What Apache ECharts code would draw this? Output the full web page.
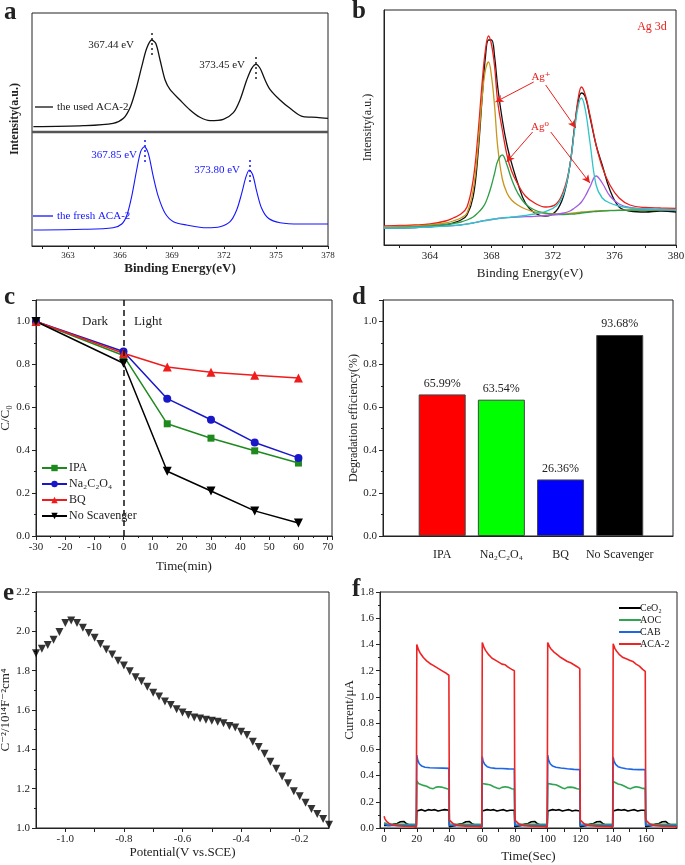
<!DOCTYPE html>
<html><head><meta charset="utf-8">
<script src="https://cdn.jsdelivr.net/npm/echarts@6/dist/echarts.min.js"></script>
<style>html,body{margin:0;padding:0;background:#fff}#c{width:685px;height:865px}</style>
</head><body><div id="c"></div>
<script>
// ---------- Panel a : Ag 3d XPS, used vs fresh ----------
const aUsedX = [361.0, 363.9, 365.6, 366.2, 366.6, 366.96, 367.25, 367.54, 367.83, 368.06, 368.31, 368.6, 368.88, 369.46, 370.04, 370.61, 371.19, 371.96, 372.54, 372.92, 373.31, 373.6, 373.85, 374.08, 374.37, 374.65, 375.23, 375.81, 376.57, 377.35, 378.0];
const aUsedY = [5.3, 6.3, 8.7, 13.7, 25.3, 45.3, 65.3, 83.7, 92, 88.7, 72, 52, 42.7, 32, 22, 14.7, 11.3, 12.7, 19.3, 32, 52, 63.7, 67.7, 63.7, 52, 42.7, 32, 23.7, 15.3, 14.7, 13.7];
const aFreshX = [361.0, 363.9, 365.6, 366.1, 366.4, 366.67, 366.96, 367.19, 367.4, 367.63, 367.92, 368.21, 368.6, 369.08, 369.85, 371.0, 371.77, 372.35, 372.73, 373.02, 373.27, 373.46, 373.66, 373.89, 374.17, 374.56, 375.23, 376.38, 378.0];
const aFreshY = [16, 16.7, 18.3, 22, 31, 49.3, 76, 94.3, 99.3, 92.7, 69.3, 49.3, 32.7, 24.3, 21, 18.3, 19.3, 24.3, 36, 52.7, 69.3, 76, 71, 54.3, 37.7, 27.7, 23.3, 22, 22];
const aTickLabels = [363, 366, 369, 372, 375, 378];

// ---------- Panel b : Ag 3d fit ----------
const bX = [361, 362, 363, 364, 365, 365.5, 366, 366.4, 366.8, 367.1, 367.4, 367.6, 367.8, 368.0, 368.2, 368.4, 368.7, 369.0, 369.3, 369.7, 370.2, 370.8, 371.5, 372.2, 372.7, 373.1, 373.4, 373.65, 373.85, 374.1, 374.4, 374.8, 375.2, 375.7, 376.3, 377, 378, 379, 380];
const bRaw = [17, 17, 17.5, 18.5, 20, 22, 25, 30, 48, 88, 150, 188, 205, 205, 188, 158, 125, 100, 82, 62, 42, 32, 29, 34, 50, 80, 118, 145, 152, 148, 128, 100, 80, 55, 38, 34, 33, 34, 33];
const bEnvelope = [19, 19.5, 20, 21, 24, 27, 31, 38, 65, 108, 165, 195, 209, 200, 178, 143, 115, 90, 74, 61, 49, 42, 38, 41, 55, 80, 118, 148, 158, 150, 130, 100, 78, 60, 47, 40, 37.5, 37, 36.7];
const bAgPlus52 = [18, 18.5, 19, 20, 22, 24, 27, 32, 55, 95, 150, 175, 183, 168, 138, 98, 66, 52, 45, 40, 36, 33, 31.5, 31, 31, 31.5, 32, 32.5, 33, 33, 33.5, 34, 34.3, 34.6, 34.8, 35, 35.2, 35.3, 35.5];
const bAg0_52 = [17, 17.5, 18, 19, 20.5, 21.5, 23, 25, 28, 32, 37, 42, 50, 60, 72, 84, 90, 80, 66, 52, 41, 35, 32, 30.5, 30.5, 30.8, 31, 31.5, 32, 32.5, 33, 33.5, 34, 34.3, 34.6, 34.8, 35, 35, 35];
const bAgPlus32 = [17, 17, 17.5, 18, 19, 19.5, 20, 21, 22, 23, 24, 24.5, 25, 25.5, 26, 26.5, 27, 27.5, 28, 28.5, 29.5, 31, 33.5, 39, 52, 80, 115, 140, 147, 135, 103, 60, 47, 42, 39, 37, 36, 35.5, 35];
const bAg0_32 = [17, 17, 17.5, 18, 19, 19.5, 20, 21, 22, 23, 24, 24.5, 25, 25.5, 26, 26.5, 27, 27.3, 27.6, 28, 28.3, 28.7, 29.5, 30.5, 32, 34, 37, 40, 43, 49, 58, 69, 62, 49, 41, 37.5, 36, 35.5, 35];
const bTickLabels = [364, 368, 372, 376, 380];

// ---------- Panel c : scavenger kinetics ----------
const cTime = [-30, 0, 15, 30, 45, 60];
const cIPA = [1.0, 0.841, 0.523, 0.456, 0.397, 0.340];
const cNa2C2O4 = [1.0, 0.860, 0.640, 0.542, 0.436, 0.364];
const cBQ = [1.0, 0.852, 0.788, 0.763, 0.749, 0.737];
const cNoScav = [1.0, 0.805, 0.302, 0.210, 0.117, 0.061];
const cNames = ['IPA', 'Na₂C₂O₄', 'BQ', 'No Scavenger'];

// ---------- Panel d : degradation efficiency ----------
const dNames = ['IPA', 'Na₂C₂O₄', 'BQ', 'No Scavenger'];
const dValues = [0.6599, 0.6354, 0.2636, 0.9368];
const dColors = ['#ff0000', '#00ff00', '#0000ff', '#000000'];

// ---------- Panel e : Mott-Schottky ----------
const eX = [-1.10,-1.08,-1.06,-1.04,-1.02,-1.00,-0.98,-0.96,-0.94,-0.92,-0.90,-0.88,-0.86,-0.84,-0.82,-0.80,-0.78,-0.76,-0.74,-0.72,-0.70,-0.68,-0.66,-0.64,-0.62,-0.60,-0.58,-0.56,-0.54,-0.52,-0.50,-0.48,-0.46,-0.44,-0.42,-0.40,-0.38,-0.36,-0.34,-0.32,-0.30,-0.28,-0.26,-0.24,-0.22,-0.20,-0.18,-0.16,-0.14,-0.12,-0.10];
const eY = [1.889,1.911,1.931,1.957,1.996,2.042,2.055,2.042,2.018,1.992,1.967,1.936,1.907,1.882,1.851,1.826,1.797,1.766,1.746,1.718,1.688,1.669,1.643,1.625,1.604,1.587,1.574,1.562,1.557,1.550,1.545,1.540,1.533,1.519,1.511,1.490,1.473,1.439,1.412,1.378,1.337,1.301,1.262,1.228,1.187,1.162,1.128,1.097,1.071,1.046,1.017];
const eTickLabels = [-1.0, -0.8, -0.6, -0.4, -0.2];
const eTicks = [-1.0, -0.9, -0.8, -0.7, -0.6, -0.5, -0.4, -0.3, -0.2];

// ---------- Panel f : transient photocurrent ----------
const fCeO2 = [[0,0.02],[4,0.02],[6,0.03],[8,0.035],[10,0.048],[12,0.05],[13.5,0.035],[15,0.025],[17,0.015],[19.7,0.01],
[20,0.13],[21,0.14],[23,0.14],[25,0.13],[27,0.14],[29,0.135],[31,0.14],[33,0.13],[35,0.135],[37,0.14],[39.6,0.135],[39.9,0.01],
[44,0.02],[46,0.03],[48,0.035],[50,0.048],[52,0.05],[53.5,0.035],[55,0.025],[57,0.015],[59.7,0.01],
[60,0.13],[61,0.14],[63,0.14],[65,0.135],[67,0.14],[69,0.13],[71,0.135],[73,0.14],[75,0.13],[77,0.135],[79.6,0.135],[79.9,0.01],
[84,0.02],[86,0.03],[88,0.035],[90,0.048],[92,0.05],[93.5,0.035],[95,0.025],[97,0.015],[99.7,0.01],
[100,0.13],[101,0.14],[103,0.14],[105,0.135],[107,0.14],[109,0.13],[111,0.135],[113,0.14],[115,0.13],[117,0.135],[119.6,0.13],[119.9,0.01],
[124,0.02],[126,0.03],[128,0.035],[130,0.048],[132,0.05],[133.5,0.035],[135,0.025],[137,0.015],[139.7,0.01],
[140,0.13],[141,0.14],[143,0.14],[145,0.135],[147,0.14],[149,0.13],[151,0.135],[153,0.14],[155,0.13],[157,0.135],[159.6,0.135],[159.9,0.01],
[164,0.02],[166,0.03],[168,0.035],[170,0.048],[172,0.05],[173.5,0.035],[175,0.025],[177,0.015],[179,0.01]];
const fAOC = [[0,0.04],[2,0.03],[19.7,0.028],[20,0.36],[21,0.34],[22,0.33],[24,0.325],[26,0.318],[28,0.305],[30,0.30],[31.5,0.31],[33,0.315],[35,0.312],[37,0.305],[39.6,0.295],[39.9,0.03],
[59.7,0.028],[60,0.34],[61,0.335],[63,0.333],[65,0.328],[67,0.315],[69,0.305],[70.5,0.30],[72,0.31],[74,0.315],[76,0.31],[78,0.30],[79.6,0.295],[79.9,0.03],
[99.7,0.028],[100,0.34],[101,0.335],[103,0.333],[105,0.33],[107,0.318],[109,0.305],[110.5,0.30],[112,0.31],[114,0.312],[116,0.308],[118,0.30],[119.6,0.295],[119.9,0.03],
[139.7,0.028],[140,0.355],[141,0.345],[143,0.335],[145,0.33],[147,0.318],[149,0.305],[150.5,0.30],[152,0.308],[154,0.315],[156,0.31],[158,0.302],[159.6,0.30],[159.9,0.03],[179,0.028]];
const fCAB = [[0,0.03],[2,0.02],[19.7,0.018],[20,0.555],[20.5,0.52],[21.5,0.49],[23,0.472],[25,0.463],[28,0.46],[32,0.458],[36,0.457],[39.6,0.455],[39.9,0.02],
[59.7,0.018],[60,0.545],[60.5,0.51],[61.5,0.485],[63,0.468],[65,0.46],[68,0.455],[72,0.454],[76,0.451],[79.6,0.45],[79.9,0.02],
[99.7,0.018],[100,0.555],[100.5,0.52],[101.5,0.49],[103,0.472],[105,0.463],[108,0.458],[112,0.452],[116,0.447],[119.6,0.445],[119.9,0.02],
[139.7,0.018],[140,0.54],[140.5,0.51],[141.5,0.485],[143,0.468],[145,0.46],[148,0.452],[152,0.447],[156,0.445],[159.6,0.445],[159.9,0.02],[179,0.018]];
const fACA2 = [[0,0.09],[0.5,0.07],[1.5,0.05],[3,0.035],[5,0.025],[8,0.018],[12,0.013],[19.7,0.01],
[20,1.40],[21,1.36],[22,1.335],[24,1.30],[26,1.275],[28,1.255],[30,1.24],[32,1.225],[34,1.21],[36,1.195],[38,1.18],[39.6,1.165],
[39.9,0.06],[41,0.045],[42.5,0.03],[45,0.02],[50,0.014],[59.7,0.01],
[60,1.415],[61,1.38],[62,1.355],[64,1.32],[66,1.295],[68,1.28],[70,1.265],[72,1.25],[73,1.24],[74,1.245],[76,1.225],[78,1.21],[79.6,1.20],
[79.9,0.06],[81,0.045],[82.5,0.03],[85,0.02],[90,0.014],[99.7,0.01],
[100,1.415],[101,1.385],[102,1.365],[104,1.34],[106,1.32],[108,1.30],[110,1.285],[112,1.27],[114,1.26],[116,1.245],[118,1.23],[119.6,1.215],
[119.9,0.06],[121,0.045],[122.5,0.03],[125,0.02],[130,0.014],[139.7,0.01],
[140,1.405],[141,1.37],[142,1.35],[144,1.32],[146,1.30],[148,1.29],[150,1.28],[151,1.285],[152,1.27],[154,1.25],[156,1.235],[158,1.21],[159.6,1.195],
[159.9,0.06],[161,0.045],[162.5,0.03],[165,0.02],[170,0.014],[179,0.01]];
const fNames = ['CeO₂', 'AOC', 'CAB', 'ACA-2'];
const fTickLabels = [0, 20, 40, 60, 80, 100, 120, 140, 160];
const fTicks = [0, 10, 20, 30, 40, 50, 60, 70, 80, 90, 100, 110, 120, 130, 140, 150, 160, 170];

// ---------- helpers ----------
const FONT = '"Liberation Serif", "DejaVu Serif", serif';
const zip = (xs, ys) => xs.map((x, i) => [x, ys[i]]);
function merge(a, b) {
  const r = Object.assign({}, a);
  for (const k in b) {
    if (b[k] && typeof b[k] === 'object' && !Array.isArray(b[k]) && a[k] && typeof a[k] === 'object') r[k] = merge(a[k], b[k]);
    else r[k] = b[k];
  }
  return r;
}
const baseAxis = {
  type: 'value', splitLine: { show: false },
  axisLine: { show: true, onZero: false, lineStyle: { color: '#222', width: 1 } },
  axisTick: { show: true, inside: false, length: 4, lineStyle: { color: '#222', width: 1 } },
  minorTick: { show: false },
  axisLabel: { color: '#222', fontSize: 11, fontFamily: FONT, margin: 6 },
  nameLocation: 'middle',
  nameTextStyle: { color: '#222', fontFamily: FONT, fontSize: 13 }
};
const ax = (o) => merge(baseAxis, o);
const f1 = v => (Math.round(v * 10) / 10).toFixed(1);

const grids = [
  { left: 32, top: 13, width: 296, height: 119 },
  { left: 32, top: 132, width: 296, height: 114 },
  { left: 384, top: 10, width: 292, height: 235 },
  { left: 36, top: 300, width: 296, height: 236 },
  { left: 383, top: 300, width: 290, height: 236 },
  { left: 36, top: 592, width: 293, height: 236 },
  { left: 380, top: 592, width: 297, height: 236 }
].map(g => Object.assign({ show: true, borderColor: '#222', borderWidth: 1, backgroundColor: 'transparent', containLabel: false, outerBoundsMode: 'none' }, g));

const xAxes = [
  ax({ gridIndex: 0, min: 360.92, max: 378, show: false }),
  ax({ gridIndex: 1, min: 360.92, max: 378,
       axisLabel: { customValues: aTickLabels, fontSize: 9, margin: 5 },
       axisTick: { customValues: [361.5, 363, 364.5, 366, 367.5, 369, 370.5, 372, 373.5, 375, 376.5, 378], length: 3 },
       name: 'Binding Energy(eV)', nameGap: 16, nameTextStyle: { fontWeight: 'bold', fontSize: 13 } }),
  ax({ gridIndex: 2, min: 361, max: 380,
       axisLabel: { customValues: bTickLabels, margin: 6 },
       axisTick: { customValues: [362, 364, 366, 368, 370, 372, 374, 376, 378, 380], length: 3 },
       name: 'Binding Energy(eV)', nameGap: 22 }),
  ax({ gridIndex: 3, min: -30, max: 71.5, interval: 10,
       axisLabel: { showMaxLabel: false },
       minorTick: { show: true, splitNumber: 2, length: 2, lineStyle: { color: '#222' } },
       name: 'Time(min)', nameGap: 24 }),
  ax({ gridIndex: 4, min: 0, max: 4.9,
       axisLabel: { customValues: [1, 2, 3, 4], formatter: v => dNames[Math.round(v) - 1], fontSize: 12, margin: 13 },
       axisTick: { show: false } }),
  ax({ gridIndex: 5, min: -1.1, max: -0.1,
       axisLabel: { customValues: eTickLabels, formatter: f1 },
       axisTick: { customValues: eTicks },
       name: 'Potential(V vs.SCE)', nameGap: 17 }),
  ax({ gridIndex: 6, min: -2.5, max: 179,
       axisLabel: { customValues: fTickLabels },
       axisTick: { customValues: fTicks },
       name: 'Time(Sec)', nameGap: 22 })
];

const yAxes = [
  ax({ gridIndex: 0, min: 0, max: 119, show: false }),
  ax({ gridIndex: 1, min: 0, max: 114, show: false }),
  ax({ gridIndex: 2, min: 0, max: 235, axisTick: { show: false }, axisLabel: { show: false },
       name: 'Intensity(a.u.)', nameGap: 10, nameTextStyle: { fontSize: 12 } }),
  ax({ gridIndex: 3, min: 0, max: 1.1, interval: 0.2, axisLabel: { showMaxLabel: false, formatter: f1 },
       minorTick: { show: true, splitNumber: 2, length: 2, lineStyle: { color: '#222' } },
       name: 'C/C₀', nameGap: 19 }),
  ax({ gridIndex: 4, min: 0, max: 1.1, interval: 0.2, axisLabel: { showMaxLabel: false, formatter: f1 },
       minorTick: { show: true, splitNumber: 2, length: 2, lineStyle: { color: '#222' } },
       name: 'Degradation efficiency(%)', nameGap: 20, nameTextStyle: { fontSize: 12 } }),
  ax({ gridIndex: 5, min: 1.0, max: 2.2, interval: 0.2, axisLabel: { formatter: f1 },
       minorTick: { show: true, splitNumber: 2, length: 2, lineStyle: { color: '#222' } },
       name: 'C⁻²/10¹⁴F⁻²cm⁴', nameGap: 21 }),
  ax({ gridIndex: 6, min: 0, max: 1.8, interval: 0.2, axisLabel: { formatter: f1 },
       minorTick: { show: true, splitNumber: 2, length: 2, lineStyle: { color: '#222' } },
       name: 'Current/μA', nameGap: 20 })
];

const dotted = (pairs) => ({
  silent: true, symbol: ['none', 'none'], label: { show: false },
  lineStyle: { type: [2, 3], color: '#222', width: 1.5 },
  data: pairs.map(p => [{ coord: [p[0], p[1]] }, { coord: [p[0], p[2]] }])
});
const lineS = (xi, yi, name, data, color, w, extra) => Object.assign({
  type: 'line', name, xAxisIndex: xi, yAxisIndex: yi, data, showSymbol: false, symbol: 'none',
  lineStyle: { color, width: w }, itemStyle: { color }, animation: false
}, extra || {});

const series = [
  // a
  lineS(0, 0, 'used', zip(aUsedX, aUsedY), '#111', 1.3, { smooth: 0.3,
    markLine: dotted([[367.83, 99, 74], [373.85, 75, 50]]) }),
  Object.assign(lineS(1, 1, 'fresh', zip(aFreshX, aFreshY), '#1515ff', 1.1, { smooth: 0.3 }),
    { markLine: Object.assign(dotted([[367.4, 106, 81], [373.46, 86, 61]]), { lineStyle: { type: [2, 3], color: '#1515ff', width: 1.5 } }) }),
  // b
  lineS(2, 2, 'raw', zip(bX, bRaw), '#111', 1.3, { smooth: 0.4 }),
  lineS(2, 2, 'envelope', zip(bX, bEnvelope), '#e8201c', 1.3, { smooth: 0.4,
    markLine: { silent: true, symbol: ['none', 'arrow'], symbolSize: [6, 8], label: { show: false },
      lineStyle: { type: 'solid', color: '#e8201c', width: 1 },
      data: [
        [{ coord: [370.74, 163] }, { coord: [368.25, 143] }],
        [{ coord: [371.52, 160] }, { coord: [373.48, 117] }],
        [{ coord: [370.67, 113] }, { coord: [368.97, 83] }],
        [{ coord: [371.85, 113] }, { coord: [374.4, 62] }]
      ] } }),
  lineS(2, 2, 'Ag+ 3d5/2', zip(bX, bAgPlus52), '#c9951b', 1.3, { smooth: 0.4 }),
  lineS(2, 2, 'Ag0 3d5/2', zip(bX, bAg0_52), '#2e9e48', 1.3, { smooth: 0.4 }),
  lineS(2, 2, 'Ag0 3d3/2', zip(bX, bAg0_32), '#a35de0', 1.3, { smooth: 0.4 }),
  lineS(2, 2, 'Ag+ 3d3/2', zip(bX, bAgPlus32), '#2ec4c8', 1.3, { smooth: 0.4 }),
  // c
  Object.assign(lineS(3, 3, cNames[0], zip(cTime, cIPA), '#1e8a1e', 1.5), { showSymbol: true, symbol: 'rect', symbolSize: 7,
    markLine: { silent: true, symbol: ['none', 'none'], label: { show: false },
      lineStyle: { type: [6, 4], color: '#111', width: 1.5 }, data: [{ xAxis: 0 }] } }),
  Object.assign(lineS(3, 3, cNames[1], zip(cTime, cNa2C2O4), '#1818c8', 1.5), { showSymbol: true, symbol: 'circle', symbolSize: 8 }),
  Object.assign(lineS(3, 3, cNames[2], zip(cTime, cBQ), '#f01c1c', 1.5), { showSymbol: true, symbol: 'triangle', symbolSize: 9 }),
  Object.assign(lineS(3, 3, cNames[3], zip(cTime, cNoScav), '#000', 1.5), { showSymbol: true, symbol: 'triangle', symbolRotate: 180, symbolSize: 9 }),
  // d
  { type: 'bar', xAxisIndex: 4, yAxisIndex: 4, barWidth: 47, animation: false,
    data: dValues.map((v, i) => ({ value: [i + 1, v], itemStyle: { color: dColors[i], borderColor: '#444', borderWidth: 1 } })),
    label: { show: true, position: 'top', distance: 5, color: '#222', fontFamily: FONT, fontSize: 12,
      formatter: p => (p.value[1] * 100).toFixed(2) + '%' } },
  // e
  { type: 'scatter', xAxisIndex: 5, yAxisIndex: 5, data: zip(eX, eY), symbol: 'triangle', symbolRotate: 180,
    symbolSize: 8, itemStyle: { color: '#000' }, animation: false, clip: false },
  // f
  lineS(6, 6, fNames[0], fCeO2, '#000', 1.6),
  lineS(6, 6, fNames[1], fAOC, '#2fa552', 1.6),
  lineS(6, 6, fNames[2], fCAB, '#1f66e5', 1.6),
  lineS(6, 6, fNames[3], fACA2, '#ee2424', 1.6)
];

const T = (x, y, text, o) => ({
  type: 'text', x, y, rotation: (o && o.rot) || 0, silent: true, z: 100,
  style: { text, fill: (o && o.color) || '#222', font: (o && o.font) || ('11px ' + FONT),
    textAlign: (o && o.align) || 'left', textVerticalAlign: 'middle', align: (o && o.align) || 'left', verticalAlign: 'middle' }
});
const LET = '900 25px ' + FONT;
const graphic = [
  T(4, 13, 'a', { font: LET }), T(352, 12, 'b', { font: LET }), T(4, 298, 'c', { font: LET }),
  T(352, 298, 'd', { font: LET }), T(3, 594, 'e', { font: LET }), T(352, 590, 'f', { font: LET }),
  // panel a
  { type: 'line', silent: true, z: 90, shape: { x1: 32, y1: 132, x2: 328, y2: 132 }, style: { stroke: '#555', lineWidth: 2.5 } },
  T(134, 45, '367.44 eV', { align: 'right' }),
  T(245, 65, '373.45 eV', { align: 'right' }),
  T(137, 155, '367.85 eV', { align: 'right', color: '#1515ff' }),
  T(240, 170, '373.80 eV', { align: 'right', color: '#1515ff' }),
  { type: 'line', silent: true, shape: { x1: 35, y1: 107, x2: 53, y2: 107 }, style: { stroke: '#111', lineWidth: 1.3 } },
  T(57, 107, 'the used ACA-2'),
  { type: 'line', silent: true, shape: { x1: 33, y1: 216, x2: 53, y2: 216 }, style: { stroke: '#1515ff', lineWidth: 1.3 } },
  T(57, 216, 'the fresh ACA-2', { color: '#1515ff' }),
  T(15, 119, 'Intensity(a.u.)', { rot: Math.PI / 2, align: 'center', font: 'bold 12px ' + FONT }),
  // panel b
  T(652, 27, 'Ag 3d', { align: 'center', color: '#e8201c', font: '12px ' + FONT }),
  T(541, 77, 'Ag⁺', { align: 'center', color: '#e8201c' }),
  T(540, 127, 'Ag⁰', { align: 'center', color: '#e8201c' }),
  // panel c
  T(95, 322, 'Dark', { align: 'center', font: '13px ' + FONT }),
  T(148, 322, 'Light', { align: 'center', font: '13px ' + FONT })
];

const chart = echarts.init(document.getElementById('c'), null, { renderer: 'canvas' });
chart.setOption({
  animation: false,
  backgroundColor: '#fff',
  textStyle: { fontFamily: FONT },
  grid: grids, xAxis: xAxes, yAxis: yAxes, series, graphic,
  legend: [
    { data: cNames, orient: 'vertical', left: 36, top: 457, itemWidth: 25, itemHeight: 8, itemGap: 4,
      textStyle: { fontFamily: FONT, fontSize: 12, color: '#222', padding: [0, 0, 0, -3] }, selectedMode: false },
    { data: fNames.map(n => ({ name: n, icon: 'rect' })), orient: 'vertical', left: 614, top: 598,
      itemWidth: 22, itemHeight: 2, itemGap: 2,
      textStyle: { fontFamily: FONT, fontSize: 10, color: '#222', padding: [0, 0, 0, -6] }, selectedMode: false }
  ]
});
</script></body></html>
